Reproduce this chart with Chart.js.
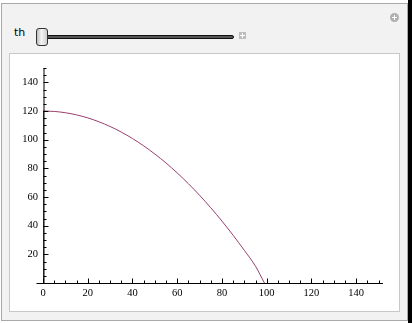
<!DOCTYPE html>
<html>
<head>
<meta charset="utf-8">
<script src="https://cdn.jsdelivr.net/npm/chart.js@4/dist/chart.umd.min.js"></script>
<style>
  html, body { margin:0; padding:0; background:#fff; width:412px; height:323px; overflow:hidden; }
  #outer { position:absolute; left:1px; top:3px; width:405px; height:316px; background:#f2f2f2; border:1px solid #a9a9a9; }
  #strip { position:absolute; left:408px; top:0; width:4px; height:323px; background:#000; }
  #inner { position:absolute; left:9px; top:53px; width:389px; height:257px; background:#fff; border:1px solid #c8c8c8; }
  #thlabel { position:absolute; left:14px; top:26px; font-family:"DejaVu Sans", sans-serif; font-size:11px; color:#000; }
  #track { position:absolute; left:36px; top:35px; width:196px; height:2px; background:#555; border:1px solid #111; border-radius:2px; }
  #thumb { position:absolute; left:36px; top:28px; width:10px; height:16px; border:1px solid #333; border-radius:3px;
           background:linear-gradient(to right,#bdbdbd,#f4f4f4 45%,#cfcfcf); }
  #plusbox { position:absolute; left:239px; top:32px; width:7px; height:7px; background:#bdbdbd; }
  #plusbox:before { content:""; position:absolute; left:3px; top:1px; width:1px; height:5px; background:#fff; }
  #plusbox:after { content:""; position:absolute; left:1px; top:3px; width:5px; height:1px; background:#fff; }
  #circ { position:absolute; left:390px; top:13px; width:9px; height:9px; border-radius:50%; background:#b0b0b0; }
  #circ:before { content:""; position:absolute; left:4px; top:2px; width:1px; height:5px; background:#fff; }
  #circ:after { content:""; position:absolute; left:2px; top:4px; width:5px; height:1px; background:#fff; }
  canvas { position:absolute; left:0; top:0; }
</style>
</head>
<body>
<div id="outer"></div>
<div id="strip"></div>
<div id="inner"></div>
<div id="thlabel">th</div>
<div id="track"></div>
<div id="thumb"></div>
<div id="plusbox"></div>
<div id="circ"></div>
<canvas id="c" width="412" height="323"></canvas>
<script>
// Data
const trajX = [0, 5, 10, 15, 20, 25, 30, 35, 40, 45, 50, 55, 60, 65, 70, 75, 80, 85, 90, 95, 99];
const trajY = [120, 119.7, 118.8, 117.3, 115.2, 112.5, 109.2, 105.3, 100.8, 95.7, 90, 83.7, 76.8, 69.3, 61.2, 52.5, 43.2, 33.3, 22.8, 11.7, 0];
const towerX = [0, 0];
const towerY = [0, 120];
const xTickLabels = [0, 20, 40, 60, 80, 100, 120, 140];
const yTickLabels = [20, 40, 60, 80, 100, 120, 140];
const xMinorStep = 5, yMinorStep = 5;
const xMax = 152, yMax = 150;

const toPts = (xs, ys) => xs.map((x, i) => ({ x: x, y: ys[i] }));

const axesPlugin = {
  id: 'mmaAxes',
  afterDatasetsDraw(chart) {
    const ctx = chart.ctx, xs = chart.scales.x, ys = chart.scales.y;
    const x0 = Math.round(xs.getPixelForValue(0)) + 0.5;
    const y0 = Math.round(ys.getPixelForValue(0)) + 0.5;
    ctx.save();
    ctx.strokeStyle = '#000';
    ctx.lineWidth = 1;
    ctx.beginPath();
    ctx.moveTo(x0 - 7, y0); ctx.lineTo(xs.getPixelForValue(xMax), y0);
    ctx.moveTo(x0 + 0.5, y0); ctx.lineTo(x0 + 0.5, ys.getPixelForValue(yMax));
    for (let v = 0; v <= xMax + 0.01; v += xMinorStep) {
      const p = Math.round(xs.getPixelForValue(v)) + 0.5;
      const len = (v % 20 === 0) ? 5 : 3;
      ctx.moveTo(p, y0); ctx.lineTo(p, y0 - len);
    }
    for (let v = yMinorStep; v <= yMax + 0.01; v += yMinorStep) {
      const p = Math.round(ys.getPixelForValue(v)) + 0.5;
      const len = (v % 20 === 0) ? 5 : 3;
      ctx.moveTo(x0, p); ctx.lineTo(x0 + len, p);
    }
    ctx.stroke();
    ctx.restore();
  }
};

new Chart(document.getElementById('c'), {
  type: 'scatter',
  data: {
    datasets: [
      { data: toPts(towerX, towerY), showLine: true, borderColor: 'rgb(61,61,153)', borderWidth: 2, pointRadius: 0, order: 2 },
      { data: toPts(trajX, trajY), showLine: true, borderColor: 'rgb(153,61,113)', borderWidth: 1, pointRadius: 0, cubicInterpolationMode: 'monotone', order: 1 }
    ]
  },
  options: {
    responsive: false,
    animation: false,
    events: [],
    layout: { padding: { left: 13, right: 29, top: 68, bottom: 20 } },
    plugins: { legend: { display: false }, tooltip: { enabled: false } },
    scales: {
      x: {
        type: 'linear', min: 0, max: xMax,
        grid: { display: false, drawTicks: false },
        border: { display: false },
        afterBuildTicks: s => { s.ticks = xTickLabels.map(v => ({ value: v })); },
        afterFit: s => { s.height = 20; },
        ticks: { padding: 4, color: '#000', maxRotation: 0, autoSkip: false, font: { family: 'Liberation Serif', size: 10.5 } }
      },
      y: {
        type: 'linear', min: 0, max: yMax,
        grid: { display: false, drawTicks: false },
        border: { display: false },
        afterBuildTicks: s => { s.ticks = yTickLabels.map(v => ({ value: v })); },
        afterFit: s => { s.width = 30; },
        ticks: { padding: 5, color: '#000', autoSkip: false, font: { family: 'Liberation Serif', size: 10.5 } }
      }
    }
  },
  plugins: [axesPlugin]
});
</script>
</body>
</html>
